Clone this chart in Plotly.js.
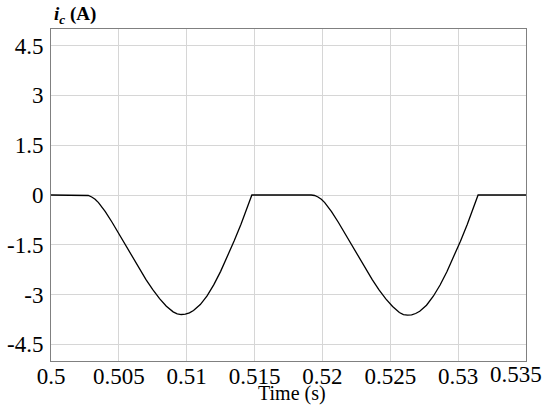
<!DOCTYPE html>
<html>
<head>
<meta charset="utf-8">
<script src="https://cdn.plot.ly/plotly-3.0.1.min.js"></script>
<style>
  html, body { margin: 0; padding: 0; background: #fff; }
  #chart { width: 550px; height: 411px; }
</style>
</head>
<body>
<div id="chart"></div>
<script>
// capacitor current i_c (A) against time (s)
const timeS = [
  0.5000, 0.5025, 0.50275, 0.5030, 0.50325, 0.5035, 0.50375, 0.5040, 0.5045, 0.5050,
  0.5055, 0.5060, 0.5065, 0.5070, 0.5075, 0.5080, 0.5085, 0.5090, 0.5093, 0.5096,
  0.5099, 0.5102, 0.5105, 0.5110, 0.5115, 0.5120, 0.5125, 0.5130, 0.5135, 0.5140,
  0.5145, 0.5148,
  0.51917, 0.51942, 0.51967, 0.51992, 0.52017, 0.52042, 0.52067, 0.52117, 0.52167,
  0.52217, 0.52267, 0.52317, 0.52367, 0.52417, 0.52467, 0.52517, 0.52567, 0.52597,
  0.52627, 0.52657, 0.52687, 0.52717, 0.52767, 0.52817, 0.52867, 0.52917, 0.52967,
  0.53017, 0.53067, 0.53117, 0.53147, 0.5350
];
const icAmps = [
  0, 0, -0.015, -0.06, -0.13, -0.23, -0.36, -0.50, -0.82, -1.17,
  -1.53, -1.88, -2.22, -2.55, -2.85, -3.12, -3.35, -3.52, -3.58, -3.60,
  -3.59, -3.55, -3.48, -3.30, -3.04, -2.70, -2.30, -1.85, -1.38, -0.88,
  -0.35, 0,
  0, -0.015, -0.06, -0.13, -0.23, -0.36, -0.50, -0.82, -1.17,
  -1.53, -1.88, -2.22, -2.55, -2.86, -3.13, -3.36, -3.54, -3.60,
  -3.62, -3.61, -3.57, -3.50, -3.32, -3.05, -2.71, -2.31, -1.86,
  -1.39, -0.89, -0.36, 0, 0
];
const xTicks = [0.5, 0.505, 0.51, 0.515, 0.52, 0.525, 0.53, 0.535];
const yTicks = [-4.5, -3, -1.5, 0, 1.5, 3, 4.5];

// font lists with commas are not picked up here, so one family name only
const serif = 'Times New Roman';

const trace = {
  type: 'scatter',
  mode: 'lines',
  x: timeS,
  y: icAmps,
  line: {color: '#000000', width: 1.3},
  hoverinfo: 'skip'
};

const axisStyle = {
  ticks: '',
  showgrid: true,
  gridcolor: '#d6d6d6',
  gridwidth: 1,
  zeroline: false,
  showline: true,
  linecolor: '#808080',
  linewidth: 1,
  mirror: true,
  tickfont: {family: serif, size: 23, color: '#000'}
};

// last x label sits left of its tick in the original, so it is drawn as an annotation
const lastX = xTicks[xTicks.length - 1];

const layout = {
  width: 550,
  height: 411,
  margin: {l: 51, r: 24, t: 29, b: 50},
  paper_bgcolor: '#ffffff',
  plot_bgcolor: '#ffffff',
  showlegend: false,
  font: {family: serif, color: '#000000', size: 22},
  xaxis: Object.assign({
    range: [0.5, 0.535],
    tickvals: xTicks,
    ticktext: xTicks.map(v => v === lastX ? '' : String(v)),
    ticklabelstandoff: -6
  }, axisStyle),
  yaxis: Object.assign({
    range: [-5, 5],
    tickvals: yTicks,
    ticktext: yTicks.map(String),
    ticklabelstandoff: 2
  }, axisStyle),
  annotations: [
    {
      text: '<b><i>i</i></b><sub><b><i>c</i></b></sub><b> (A)</b>',
      xref: 'paper', yref: 'paper',
      x: 0, y: 1,
      xanchor: 'left', yanchor: 'bottom',
      xshift: 1, yshift: 0,
      showarrow: false,
      font: {family: serif, size: 19, color: '#000'}
    },
    {
      text: String(lastX),
      xref: 'x', yref: 'paper',
      x: lastX, y: 0,
      xanchor: 'center', yanchor: 'top',
      xshift: -10, yshift: 1,
      showarrow: false,
      font: {family: serif, size: 23, color: '#000'}
    },
    {
      text: 'Time (s)',
      xref: 'paper', yref: 'paper',
      x: 0.5, y: 0,
      xanchor: 'center', yanchor: 'top',
      xshift: 3, yshift: -19,
      showarrow: false,
      font: {family: serif, size: 20, color: '#000'}
    }
  ]
};

Plotly.newPlot('chart', [trace], layout, {staticPlot: true, displayModeBar: false});
</script>
</body>
</html>
